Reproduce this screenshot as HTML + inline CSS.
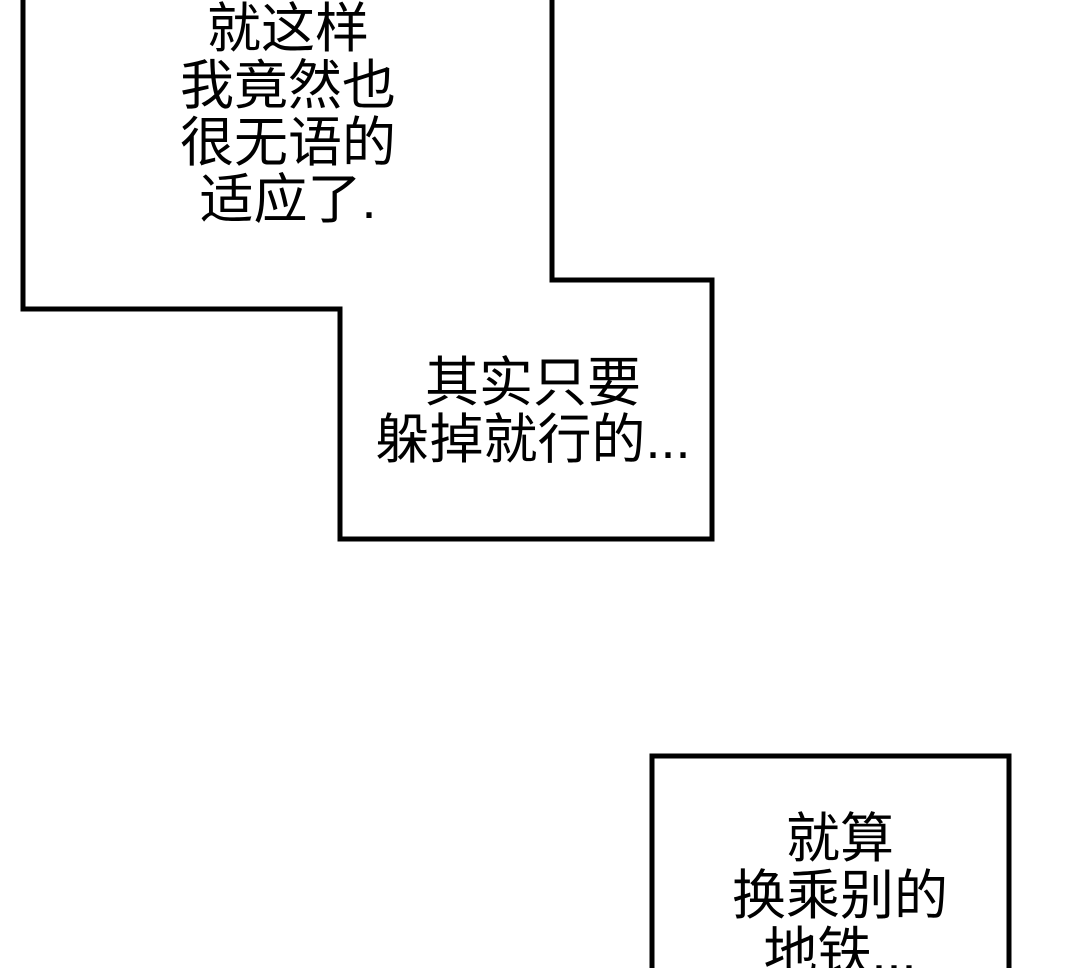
<!DOCTYPE html>
<html><head><meta charset="utf-8"><style>
html,body{margin:0;padding:0;background:#fff;width:1080px;height:968px;overflow:hidden;position:relative}
.t{position:absolute;font-family:"Liberation Sans","Noto Sans CJK SC",sans-serif;font-size:54px;line-height:57px;color:#000;text-align:center;white-space:nowrap}
</style></head><body>
<svg width="1080" height="968" style="position:absolute;left:0;top:0">
<polyline points="23,-10 23,309 340,309 340,539 712,539 712,280 552,280 552,-10" fill="none" stroke="#000" stroke-width="5" stroke-linejoin="miter"/>
<polyline points="652,980 652,756 1009,756 1009,980" fill="none" stroke="#000" stroke-width="5"/>
</svg>
<div class="t" style="left:138px;width:300px;top:1px">就这样<br>我竟然也<br>很无语的<br>适应了.</div>
<div class="t" style="left:333px;width:400px;top:355px">其实只要<br>躲掉就行的...</div>
<div class="t" style="left:690px;width:300px;top:811px">就算<br>换乘别的<br>地铁...</div>
</body></html>
